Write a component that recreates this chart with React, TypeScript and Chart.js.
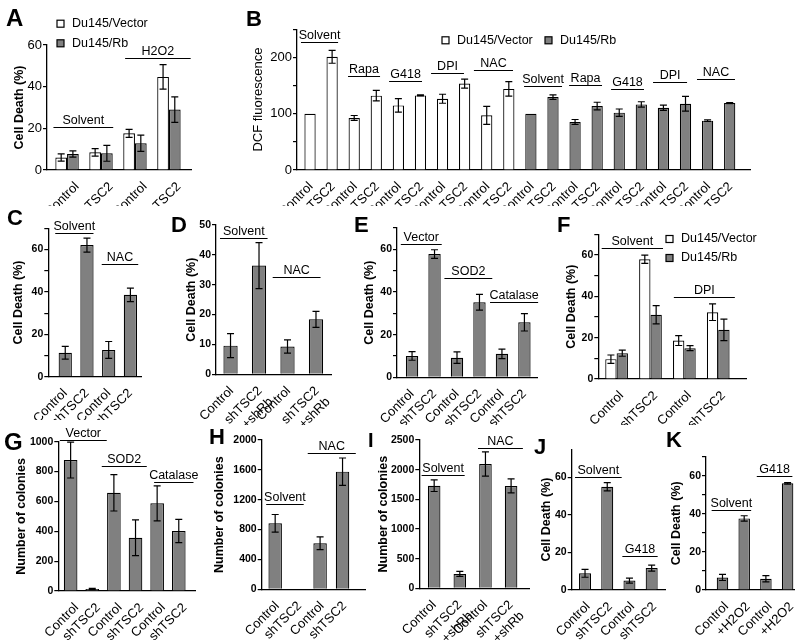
import React, { useEffect, useRef } from 'react';
import { Chart, registerables } from 'chart.js';

Chart.register(...registerables);

const FONT = '"Liberation Sans", Arial, Helvetica, sans-serif';
const GRAY = '#808080';
const WHITE = '#ffffff';
const CAP = 3.5;

Chart.defaults.font.family = FONT;
Chart.defaults.color = '#000';

// ---------------- data ----------------
const aLabels = ['Control', 'shTSC2', 'Control', 'shTSC2'];
const aVector = [6, 8.5, 17.6, 44.7];
const aVectorErr = [1.7, 1.8, 1.9, 5.9];
const aRb = [7.7, 8, 12.8, 29];
const aRbErr = [1.5, 3.8, 3.9, 6.1];

const bLabels = ['Control', 'shTSC2', 'Control', 'shTSC2', 'Control', 'shTSC2', 'Control', 'shTSC2', 'Control', 'shTSC2',
  'Control', 'shTSC2', 'Control', 'shTSC2', 'Control', 'shTSC2', 'Control', 'shTSC2', 'Control', 'shTSC2'];
const bVector = [100, 201, 92.4, 132, 114.7, 132.5, 126.5, 153.5, 97, 144];
const bVectorErr = [0, 11.5, 4.4, 9.4, 12, 0.8, 8, 8, 16, 13];
const bRb = [100, 129.4, 85.3, 113.5, 101.8, 116.5, 110.6, 117.6, 87.6, 118.8];
const bRbErr = [0, 4, 4.4, 6.8, 6.5, 4.7, 4.7, 13, 1.5, 0.8];

const cLabels = ['Control', 'shTSC2', 'Control', 'shTSC2'];
const cValues = [11.3, 62.1, 12.6, 38.6];
const cErr = [3, 3.3, 4, 3.2];

const dLabels = ['Control', ['shTSC2', '+shRb'], 'Control', ['shTSC2', '+shRb']];
const dValues = [9.6, 36.4, 9.3, 18.4];
const dErr = [4, 7.7, 2.2, 2.7];

const eLabels = ['Control', 'shTSC2', 'Control', 'shTSC2', 'Control', 'shTSC2'];
const eValues = [10, 57.8, 9.2, 35.2, 11, 25.8];
const eErr = [2, 2, 2.7, 3.7, 2.2, 4.1];

const fLabels = ['Control', 'shTSC2', 'Control', 'shTSC2'];
const fVector = [9.6, 57.9, 18.6, 32.3];
const fVectorErr = [2, 2, 2.4, 4];
const fRb = [12.5, 31.1, 14.9, 23.8];
const fRbErr = [1.5, 4.4, 1.2, 5.2];

const gLabels = ['Control', 'shTSC2', 'Control', 'shTSC2', 'Control', 'shTSC2'];
const gValues = [877, 13, 658, 357, 587, 402];
const gErr = [120, 4, 122, 120, 117, 78];

const hLabels = ['Control', 'shTSC2', 'Control', 'shTSC2'];
const hValues = [884, 8, 616, 1576];
const hErr = [118, 0, 85, 183];

const iLabels = ['Control', ['shTSC2', '+shRb'], 'Control', ['shTSC2', '+shRb']];
const iValues = [1730, 242, 2096, 1725];
const iErr = [98, 42, 205, 118];

const jLabels = ['Control', 'shTSC2', 'Control', 'shTSC2'];
const jValues = [8.9, 55, 5, 11.7];
const jErr = [2.1, 2.2, 1.3, 1.6];

const kLabels = ['Control', '+H2O2', 'Control', '+H2O2'];
const kValues = [6.6, 37.6, 5.9, 56];
const kErr = [1.6, 1.4, 1.6, 0.4];

// ---------------- config types ----------------
type Series = { label: string; xs: number[]; values: number[]; errors: number[]; fill: string };
type Group = { text: string; from: number; to: number; y: number };
type LegendItem = { text: string; fill: string; x: number; y: number };
interface PanelCfg {
  box: [number, number, number, number];
  area: [number, number, number, number];
  labels: (string | string[])[];
  labelShift: number;
  series: Series[];
  grouped: boolean;
  xMin: number;
  xMax: number;
  catPct: number;
  yMax: number;
  yStep: number;
  yLabelEvery: number;
  tickBold: boolean;
  tickSize: number;
  title: string;
  titleX: number;
  titleBold: boolean;
  titleSize: number;
  groups: Group[];
  groupSize: number;
  legend?: LegendItem[];
}

const idx = (n: number, start = 0) => Array.from({ length: n }, (_, i) => i + start);

const panels: PanelCfg[] = [
  {
    box: [0, 0, 200, 206], area: [47, 45, 191, 170],
    labels: aLabels, labelShift: 10, grouped: true, xMin: -0.59, xMax: 3.65, catPct: 0.69,
    series: [
      { label: 'Du145/Vector', xs: idx(4), values: aVector, errors: aVectorErr, fill: WHITE },
      { label: 'Du145/Rb', xs: idx(4), values: aRb, errors: aRbErr, fill: GRAY },
    ],
    yMax: 60, yStep: 20, yLabelEvery: 20, tickBold: false, tickSize: 13,
    title: 'Cell Death (%)', titleX: 20, titleBold: true, titleSize: 12.5,
    groups: [
      { text: 'Solvent', from: -0.4, to: 1.36, y: 20.8 },
      { text: 'H2O2', from: 1.71, to: 3.64, y: 53.6 },
    ],
    groupSize: 12.5,
    legend: [
      { text: 'Du145/Vector', fill: WHITE, x: 57, y: 23.7 },
      { text: 'Du145/Rb', fill: GRAY, x: 57, y: 43.3 },
    ],
  },
  {
    box: [236, 0, 760, 206], area: [297, 29.2, 750, 170],
    labels: bLabels, labelShift: 1, grouped: false, xMin: -0.59, xMax: 19.92, catPct: 0.51,
    series: [
      { label: 'Du145/Vector', xs: idx(10), values: bVector, errors: bVectorErr, fill: WHITE },
      { label: 'Du145/Rb', xs: idx(10, 10), values: bRb, errors: bRbErr, fill: GRAY },
    ],
    yMax: 250, yStep: 50, yLabelEvery: 100, tickBold: false, tickSize: 13,
    title: 'DCF fluorescence', titleX: 258, titleBold: false, titleSize: 13,
    groups: [
      { text: 'Solvent', from: -0.41, to: 1.27, y: 228 },
      { text: 'Rapa', from: 1.72, to: 3.17, y: 167.6 },
      { text: 'G418', from: 3.58, to: 5.07, y: 158.8 },
      { text: 'DPI', from: 5.48, to: 6.97, y: 171.8 },
      { text: 'NAC', from: 7.42, to: 9.19, y: 177.6 },
      { text: 'Solvent', from: 9.69, to: 11.41, y: 150 },
      { text: 'Rapa', from: 11.73, to: 13.22, y: 151.8 },
      { text: 'G418', from: 13.63, to: 15.12, y: 143 },
      { text: 'DPI', from: 15.53, to: 17.07, y: 156 },
      { text: 'NAC', from: 17.52, to: 19.24, y: 161.8 },
    ],
    groupSize: 12.5,
    legend: [
      { text: 'Du145/Vector', fill: WHITE, x: 442, y: 40.3 },
      { text: 'Du145/Rb', fill: GRAY, x: 545, y: 40.3 },
    ],
  },
  {
    box: [0, 205, 160, 420], area: [48.3, 228.3, 141.7, 376.7],
    labels: cLabels, labelShift: 0, grouped: true, xMin: -0.78, xMax: 3.52, catPct: 0.61,
    series: [{ label: 'C', xs: idx(4), values: cValues, errors: cErr, fill: GRAY }],
    yMax: 70, yStep: 10, yLabelEvery: 20, tickBold: true, tickSize: 10.5,
    title: 'Cell Death (%)', titleX: 19, titleBold: true, titleSize: 12.5,
    groups: [
      { text: 'Solvent', from: -0.46, to: 1.3, y: 67.6 },
      { text: 'NAC', from: 1.68, to: 3.36, y: 53 },
    ],
    groupSize: 12.5,
  },
  {
    box: [165, 205, 340, 425], area: [216, 225, 333, 374.3],
    labels: dLabels, labelShift: 1, grouped: true, xMin: -0.51, xMax: 3.55, catPct: 0.5,
    series: [{ label: 'D', xs: idx(4), values: dValues, errors: dErr, fill: GRAY }],
    yMax: 50, yStep: 10, yLabelEvery: 10, tickBold: true, tickSize: 10.5,
    title: 'Cell Death (%)', titleX: 191.7, titleBold: true, titleSize: 12.5,
    groups: [
      { text: 'Solvent', from: -0.37, to: 1.3, y: 45.7 },
      { text: 'NAC', from: 1.48, to: 3.16, y: 32.5 },
    ],
    groupSize: 12.5,
  },
  {
    box: [345, 205, 545, 425], area: [397, 228, 537, 377.3],
    labels: eLabels, labelShift: 0, grouped: true, xMin: -0.67, xMax: 5.56, catPct: 0.55,
    series: [{ label: 'E', xs: idx(6), values: eValues, errors: eErr, fill: GRAY }],
    yMax: 70, yStep: 10, yLabelEvery: 20, tickBold: true, tickSize: 10.5,
    title: 'Cell Death (%)', titleX: 370, titleBold: true, titleSize: 12.5,
    groups: [
      { text: 'Vector', from: -0.5, to: 1.32, y: 62.3 },
      { text: 'SOD2', from: 1.44, to: 3.57, y: 46.4 },
      { text: 'Catalase', from: 3.47, to: 5.61, y: 35.4 },
    ],
    groupSize: 12.5,
  },
  {
    box: [550, 205, 790, 425], area: [598.3, 234.3, 746.7, 379],
    labels: fLabels, labelShift: 5, grouped: true, xMin: -0.54, xMax: 3.84, catPct: 0.67,
    series: [
      { label: 'Du145/Vector', xs: idx(4), values: fVector, errors: fVectorErr, fill: WHITE },
      { label: 'Du145/Rb', xs: idx(4), values: fRb, errors: fRbErr, fill: GRAY },
    ],
    yMax: 70, yStep: 10, yLabelEvery: 20, tickBold: true, tickSize: 10.5,
    title: 'Cell Death (%)', titleX: 571.7, titleBold: true, titleSize: 12.5,
    groups: [
      { text: 'Solvent', from: -0.44, to: 1.37, y: 63.2 },
      { text: 'DPI', from: 1.69, to: 3.49, y: 39.7 },
    ],
    groupSize: 12.5,
    legend: [
      { text: 'Du145/Vector', fill: WHITE, x: 666, y: 239 },
      { text: 'Du145/Rb', fill: GRAY, x: 666, y: 258 },
    ],
  },
  {
    box: [0, 420, 205, 640], area: [58.3, 441.7, 195, 591],
    labels: gLabels, labelShift: 6, grouped: true, xMin: -0.57, xMax: 5.75, catPct: 0.63,
    series: [{ label: 'G', xs: idx(6), values: gValues, errors: gErr, fill: GRAY }],
    yMax: 1000, yStep: 200, yLabelEvery: 200, tickBold: true, tickSize: 10.5,
    title: 'Number of colonies', titleX: 21.7, titleBold: true, titleSize: 12.5,
    groups: [
      { text: 'Vector', from: -0.5, to: 1.67, y: 1011 },
      { text: 'SOD2', from: 1.44, to: 3.52, y: 837 },
      { text: 'Catalase', from: 3.86, to: 5.68, y: 732 },
    ],
    groupSize: 12.5,
  },
  {
    box: [205, 420, 372, 640], area: [261.7, 440, 365, 589.3],
    labels: hLabels, labelShift: 2, grouped: true, xMin: -0.6, xMax: 4.0, catPct: 0.6,
    series: [{ label: 'H', xs: idx(4), values: hValues, errors: hErr, fill: GRAY }],
    yMax: 2000, yStep: 400, yLabelEvery: 400, tickBold: true, tickSize: 10.5,
    title: 'Number of colonies', titleX: 220, titleBold: true, titleSize: 12.5,
    groups: [
      { text: 'Solvent', from: -0.4, to: 1.27, y: 1138 },
      { text: 'NAC', from: 1.45, to: 3.59, y: 1830 },
    ],
    groupSize: 12.5,
  },
  {
    box: [362, 420, 535, 640], area: [419.3, 440, 530, 588.3],
    labels: iLabels, labelShift: 0, grouped: true, xMin: -0.58, xMax: 3.73, catPct: 0.49,
    series: [{ label: 'I', xs: idx(4), values: iValues, errors: iErr, fill: GRAY }],
    yMax: 2500, yStep: 500, yLabelEvery: 500, tickBold: true, tickSize: 10.5,
    title: 'Number of colonies', titleX: 383.3, titleBold: true, titleSize: 12.5,
    groups: [
      { text: 'Solvent', from: -0.49, to: 1.19, y: 1909 },
      { text: 'NAC', from: 1.71, to: 3.46, y: 2360 },
    ],
    groupSize: 12.5,
  },
  {
    box: [528, 420, 670, 640], area: [571.7, 449.2, 665, 590],
    labels: jLabels, labelShift: 3, grouped: true, xMin: -0.6, xMax: 3.6, catPct: 0.54,
    series: [{ label: 'J', xs: idx(4), values: jValues, errors: jErr, fill: GRAY }],
    yMax: 75, yStep: 20, yLabelEvery: 20, tickBold: true, tickSize: 10.5,
    title: 'Cell Death (%)', titleX: 546.7, titleBold: true, titleSize: 12.5,
    groups: [
      { text: 'Solvent', from: -0.45, to: 1.65, y: 60 },
      { text: 'G418', from: 1.68, to: 3.27, y: 18.3 },
    ],
    groupSize: 12.5,
  },
  {
    box: [662, 420, 800, 640], area: [706, 456.7, 795, 590],
    labels: kLabels, labelShift: 4, grouped: true, xMin: -0.76, xMax: 3.3, catPct: 0.53,
    series: [{ label: 'K', xs: idx(4), values: kValues, errors: kErr, fill: GRAY }],
    yMax: 70, yStep: 10, yLabelEvery: 20, tickBold: true, tickSize: 10.5,
    title: 'Cell Death (%)', titleX: 676.7, titleBold: true, titleSize: 12.5,
    groups: [
      { text: 'Solvent', from: -0.5, to: 1.32, y: 42 },
      { text: 'G418', from: 1.58, to: 3.22, y: 60 },
    ],
    groupSize: 12.5,
  },
];

const letters = [
  { t: 'A', x: 6, y: 26, s: 24 },
  { t: 'B', x: 246, y: 27, s: 22 },
  { t: 'C', x: 7, y: 226, s: 22 },
  { t: 'D', x: 171, y: 233, s: 22 },
  { t: 'E', x: 354, y: 233, s: 22 },
  { t: 'F', x: 557, y: 233, s: 22 },
  { t: 'G', x: 4, y: 450, s: 24 },
  { t: 'H', x: 209, y: 445, s: 22 },
  { t: 'I', x: 368, y: 447, s: 20 },
  { t: 'J', x: 534, y: 455, s: 22 },
  { t: 'K', x: 666, y: 448, s: 22 },
];

function Panel({ cfg }: { cfg: PanelCfg }) {
  const ref = useRef<HTMLCanvasElement>(null);
  const [bl, bt, br, bb] = cfg.box;
  const W = br - bl;
  const H = bb - bt;

  useEffect(() => {
    const canvas = ref.current;
    if (!canvas) return;
    const [x0, yT, x1, yB] = cfg.area;
    const yTicks: number[] = [];
    for (let v = 0; v <= cfg.yMax + 1e-9; v += cfg.yStep) yTicks.push(Math.round(v * 1000) / 1000);

    const overlay = {
      id: 'overlay',
      afterDraw(chart: any) {
        const ctx = chart.ctx as CanvasRenderingContext2D;
        const xs = chart.scales.x;
        const ys = chart.scales.y;
        ctx.save();
        ctx.strokeStyle = '#000';
        ctx.fillStyle = '#000';
        ctx.lineWidth = 1.2;
        // error bars
        cfg.series.forEach((s, di) => {
          const meta = chart.getDatasetMeta(di);
          meta.data.forEach((el: any, i: number) => {
            const v = s.values[i];
            const e = s.errors[i];
            if (!e) return;
            const x = el.x;
            const y1 = ys.getPixelForValue(v + e);
            const y2 = ys.getPixelForValue(Math.max(0, v - e));
            ctx.beginPath();
            ctx.moveTo(x, y1);
            ctx.lineTo(x, y2);
            ctx.moveTo(x - CAP, y1);
            ctx.lineTo(x + CAP, y1);
            ctx.moveTo(x - CAP, y2);
            ctx.lineTo(x + CAP, y2);
            ctx.stroke();
          });
        });
        // group labels
        ctx.font = `${cfg.groupSize}px ${FONT}`;
        ctx.textAlign = 'center';
        ctx.textBaseline = 'alphabetic';
        cfg.groups.forEach((g) => {
          const gx0 = xs.getPixelForValue(g.from);
          const gx1 = xs.getPixelForValue(g.to);
          const gy = Math.round(ys.getPixelForValue(g.y)) + 0.5;
          ctx.beginPath();
          ctx.moveTo(gx0, gy);
          ctx.lineTo(gx1, gy);
          ctx.stroke();
          ctx.fillText(g.text, (gx0 + gx1) / 2, gy - 4);
        });
        // legend
        if (cfg.legend) {
          ctx.textAlign = 'left';
          ctx.textBaseline = 'middle';
          cfg.legend.forEach((l) => {
            const lx = l.x - bl;
            const ly = l.y - bt;
            ctx.fillStyle = l.fill;
            ctx.fillRect(lx, ly - 3.5, 7, 7);
            ctx.strokeRect(lx, ly - 3.5, 7, 7);
            ctx.fillStyle = '#000';
            ctx.fillText(l.text, lx + 15, ly);
          });
        }
        // y title
        ctx.translate(cfg.titleX - bl, (yT + yB) / 2 - bt);
        ctx.rotate(-Math.PI / 2);
        ctx.font = `${cfg.titleBold ? 'bold ' : ''}${cfg.titleSize}px ${FONT}`;
        ctx.textAlign = 'center';
        ctx.textBaseline = 'middle';
        ctx.fillStyle = '#000';
        ctx.fillText(cfg.title, 0, 0);
        ctx.restore();
      },
    };

    const chart = new Chart(canvas, {
      type: 'bar',
      data: {
        datasets: cfg.series.map((s) => ({
          label: s.label,
          data: s.xs.map((x, i) => ({ x, y: s.values[i] })),
          backgroundColor: s.fill,
          borderColor: '#000',
          borderWidth: 1.2,
          grouped: cfg.grouped,
          categoryPercentage: cfg.catPct,
          barPercentage: 1,
        })),
      } as any,
      options: {
        responsive: false,
        maintainAspectRatio: false,
        devicePixelRatio: 1,
        animation: false,
        events: [],
        layout: { padding: { left: 0, top: yT - bt, right: br - x1, bottom: 0 } },
        plugins: { legend: { display: false }, tooltip: { enabled: false }, title: { display: false } },
        scales: {
          x: {
            type: 'linear',
            min: cfg.xMin,
            max: cfg.xMax,
            offset: false,
            afterBuildTicks: (s: any) => {
              s.ticks = cfg.labels.map((_, i) => ({ value: i }));
            },
            afterFit: (s: any) => {
              s.height = bb - yB;
            },
            ticks: {
              autoSkip: false,
              maxRotation: 45,
              minRotation: 45,
              padding: 1,
              labelOffset: cfg.labelShift,
              color: '#000',
              font: { size: 13, family: FONT },
              callback: (v: any) => cfg.labels[Math.round(Number(v))] ?? '',
            },
            grid: { display: false },
            border: { display: true, color: '#000', width: 1.3 },
          },
          y: {
            type: 'linear',
            min: 0,
            max: cfg.yMax,
            afterBuildTicks: (s: any) => {
              s.ticks = yTicks.map((v) => ({ value: v }));
            },
            afterFit: (s: any) => {
              s.width = x0 - bl;
            },
            ticks: {
              autoSkip: false,
              padding: 1,
              color: '#000',
              font: { size: cfg.tickSize, family: FONT, weight: cfg.tickBold ? 'bold' : 'normal' },
              callback: (v: any) => {
                const n = Number(v);
                const r = n / cfg.yLabelEvery;
                return Math.abs(r - Math.round(r)) < 1e-6 ? String(n) : '';
              },
            },
            grid: { display: true, drawOnChartArea: false, drawTicks: true, tickLength: 4, color: '#000', lineWidth: 1.2 },
            border: { display: true, color: '#000', width: 1.3 },
          },
        },
      } as any,
      plugins: [overlay],
    });
    return () => chart.destroy();
  }, [cfg]);

  return (
    <canvas
      ref={ref}
      width={W}
      height={H}
      style={{ position: 'absolute', left: bl, top: bt, width: W, height: H }}
    />
  );
}

export default function App() {
  return (
    <div
      style={{
        position: 'absolute',
        left: 0,
        top: 0,
        width: 800,
        height: 640,
        overflow: 'hidden',
        background: '#fff',
        fontFamily: FONT,
      }}
    >
      {panels.map((p, i) => (
        <Panel key={i} cfg={p} />
      ))}
      {letters.map((l) => (
        <div
          key={l.t}
          style={{
            position: 'absolute',
            left: l.x,
            top: l.y - 0.8465 * l.s,
            fontSize: l.s,
            lineHeight: `${l.s}px`,
            fontWeight: 'bold',
            fontFamily: FONT,
            color: '#000',
          }}
        >
          {l.t}
        </div>
      ))}
    </div>
  );
}
